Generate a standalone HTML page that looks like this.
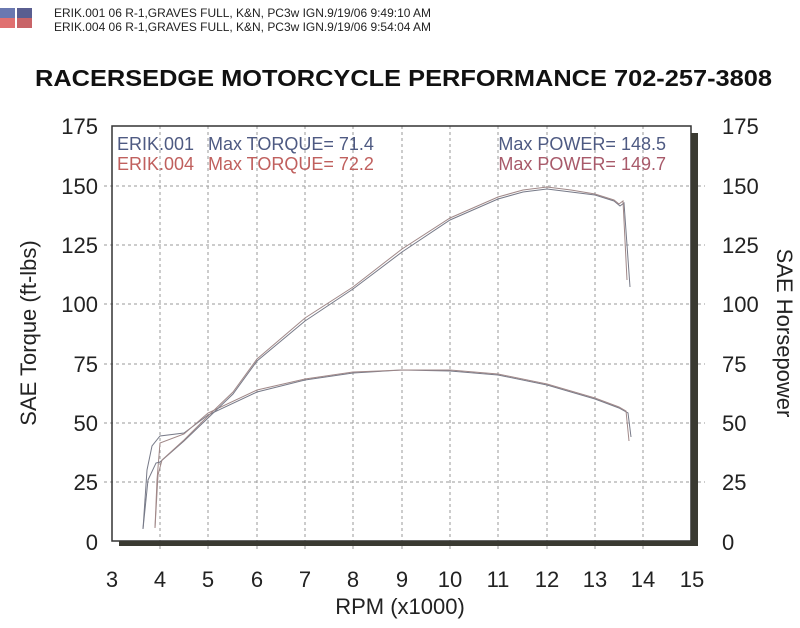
<!DOCTYPE html>
<html><head><meta charset="utf-8"><style>
body{margin:0;background:#fff;width:800px;height:623px;overflow:hidden;font-family:"Liberation Sans",sans-serif}
</style></head><body>
<svg width="800" height="623" xmlns="http://www.w3.org/2000/svg" font-family="Liberation Sans, sans-serif">
<rect x="0" y="8" width="15" height="10" fill="#6a78b0"/><rect x="17" y="8" width="15" height="10" fill="#5a5e90"/>
<rect x="0" y="18" width="15" height="10" fill="#e07070"/><rect x="17" y="18" width="15" height="10" fill="#c86468"/>
<text x="54" y="17" font-size="12" fill="#222" textLength="377" lengthAdjust="spacingAndGlyphs">ERIK.001   06 R-1,GRAVES FULL, K&amp;N, PC3w IGN.9/19/06 9:49:10 AM</text>
<text x="54" y="31" font-size="12" fill="#222" textLength="377" lengthAdjust="spacingAndGlyphs">ERIK.004   06 R-1,GRAVES FULL, K&amp;N, PC3w IGN.9/19/06 9:54:04 AM</text>
<text x="35" y="86" font-size="23" font-weight="bold" fill="#111" textLength="737" lengthAdjust="spacingAndGlyphs">RACERSEDGE MOTORCYCLE PERFORMANCE 702-257-3808</text>
<g stroke="#999" stroke-width="1" stroke-dasharray="3,3">
<line x1="160" y1="126" x2="160" y2="550"/><line x1="208" y1="126" x2="208" y2="550"/><line x1="257" y1="126" x2="257" y2="550"/><line x1="305" y1="126" x2="305" y2="550"/><line x1="353" y1="126" x2="353" y2="550"/><line x1="402" y1="126" x2="402" y2="550"/><line x1="450" y1="126" x2="450" y2="550"/><line x1="498" y1="126" x2="498" y2="550"/><line x1="547" y1="126" x2="547" y2="550"/><line x1="595" y1="126" x2="595" y2="550"/><line x1="643" y1="126" x2="643" y2="550"/>
<line x1="104" y1="186" x2="705" y2="186"/><line x1="104" y1="245" x2="705" y2="245"/><line x1="104" y1="304" x2="705" y2="304"/><line x1="104" y1="364" x2="705" y2="364"/><line x1="104" y1="423" x2="705" y2="423"/><line x1="104" y1="482" x2="705" y2="482"/>
</g>
<rect x="112" y="126" width="579" height="415" fill="none" stroke="#333" stroke-width="1.5"/>
<rect x="691" y="133" width="7" height="413" fill="#3a3a32"/>
<rect x="119" y="541" width="579" height="5" fill="#3a3a32"/>
<g font-size="22" fill="#222">
<g text-anchor="end"><text x="98" y="134">175</text><text x="98" y="194">150</text><text x="98" y="253">125</text><text x="98" y="312">100</text><text x="98" y="372">75</text><text x="98" y="431">50</text><text x="98" y="490">25</text><text x="98" y="550">0</text></g>
<g><text x="722" y="134">175</text><text x="722" y="194">150</text><text x="722" y="253">125</text><text x="722" y="312">100</text><text x="722" y="372">75</text><text x="722" y="431">50</text><text x="722" y="490">25</text><text x="722" y="550">0</text></g>
<g text-anchor="middle"><text x="112" y="587">3</text><text x="160" y="587">4</text><text x="208" y="587">5</text><text x="257" y="587">6</text><text x="305" y="587">7</text><text x="353" y="587">8</text><text x="402" y="587">9</text><text x="450" y="587">10</text><text x="498" y="587">11</text><text x="547" y="587">12</text><text x="595" y="587">13</text><text x="643" y="587">14</text><text x="692" y="587">15</text></g>
<text x="400" y="614" text-anchor="middle">RPM (x1000)</text>
<text transform="translate(36,333) rotate(-90)" text-anchor="middle">SAE Torque (ft-lbs)</text>
<text transform="translate(777,333) rotate(90)" text-anchor="middle">SAE Horsepower</text>
</g>
<g font-size="18"><text x="117" y="150" fill="#4e5a82">ERIK.001</text><text x="208" y="150" fill="#4e5a82">Max TORQUE= 71.4</text>
<text x="117" y="170" fill="#c0605e">ERIK.004</text><text x="208" y="170" fill="#c0605e">Max TORQUE= 72.2</text>
<text x="666" y="150" fill="#4e5a82" text-anchor="end">Max POWER= 148.5</text><text x="666" y="170" fill="#a85a6a" text-anchor="end">Max POWER= 149.7</text></g>
<g fill="none" stroke-width="1">
<polyline stroke="#777a88" points="143,529 147,470 152,446 160,436 184,433 208,415 257,392 305,380 353,373 402,370 450,371 498,375 547,385 595,399 619,408 628,413 631,437"/>
<polyline stroke="#a08888" points="155,528 157,480 160,443 184,434 208,413 257,390 305,379 353,372 402,370 450,370 498,374 547,384 595,398 619,407 626,411 629,441"/>
<polyline stroke="#777a88" points="143,529 148,480 156,463 160,462 184,441 208,418 233,394 257,361 305,321 353,289 402,252 450,220 498,199 523,192 547,189 571,192 595,195 614,201 620,206 624,203 630,287"/>
<polyline stroke="#a08888" points="155,528 158,475 162,460 184,440 208,416 233,392 257,359 305,318 353,287 402,249 450,218 498,197 523,190 547,187 571,190 595,194 614,200 619,204 623,201 627,280"/>
</g>
</svg>
</body></html>
